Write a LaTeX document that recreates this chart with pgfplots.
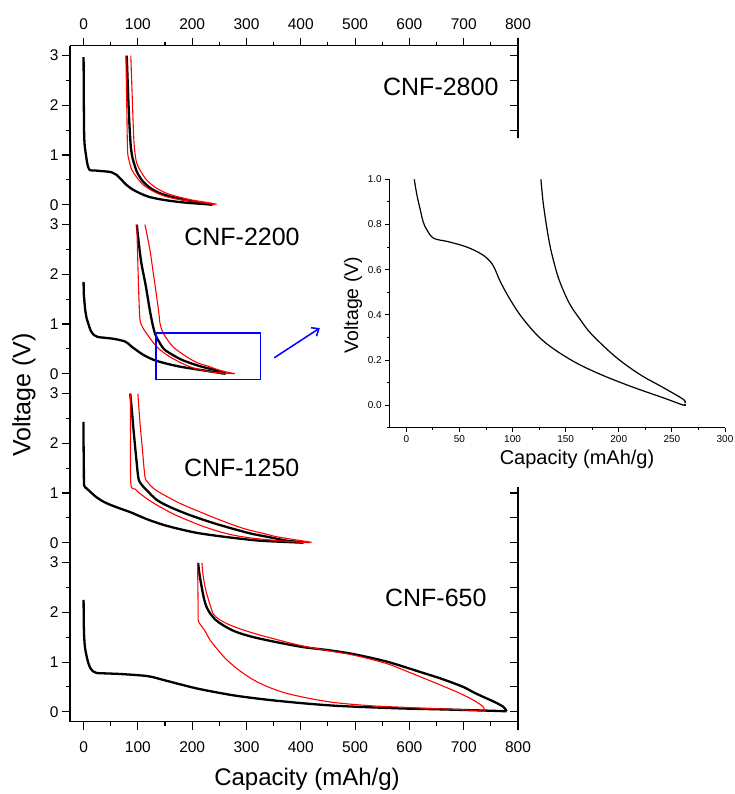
\documentclass[border=0pt]{standalone}
\usepackage{fontspec}
\setmainfont{Liberation Sans}
\usepackage{pgfplots}
\pgfplotsset{compat=1.18}
\usetikzlibrary{arrows.meta}
\definecolor{pred}{RGB}{255,0,0}
\definecolor{pblue}{RGB}{0,0,255}
\pgfplotsset{
 panel/.style={scale only axis, width=448pt, height=169pt, xmin=-25, xmax=800, ymin=-0.2, ymax=3.2,
   axis y line*=left, anchor=south west,
   xtick={0,100,...,800}, minor xtick={50,150,...,750},
   ytick={0,1,2,3}, minor ytick={0.5,1.5,2.5},
   tick align=outside, major tick length=8pt, minor tick length=4pt,
   axis line style={line width=1.1pt}, tick style={line width=1.1pt, black},
   tick label style={font=\fontsize{15.5}{18}\selectfont},
   /pgf/number format/assume math mode=true, clip=false},
 blk/.style={black, line width=2.3pt, smooth, tension=0.5, line join=round},
 rd/.style={pred, line width=1.1pt, smooth, tension=0.5, line join=round},
}
\begin{document}
\begin{tikzpicture}
\useasboundingbox (0,0) rectangle (735pt,794pt);
% ---------------- CNF-2800
\begin{axis}[panel, at={(70pt,579.3pt)}, axis x line*=top, xticklabel style={yshift=5pt}]
\addplot[blk] coordinates {(0,2.97) (0.5,2.0) (1,1.44) (2,1.2) (4,1.03) (7,0.82) (11,0.70) (20,0.69) (30,0.68) (49,0.66) (56,0.63) (61,0.60) (70,0.50) (79,0.40) (90,0.31) (104,0.23) (120,0.16) (141,0.11) (165,0.07) (190,0.04) (215,0.02) (237,0.0)};
\addplot[blk] coordinates {(239,0.01) (215,0.04) (190,0.09) (165,0.15) (141,0.23) (125,0.32) (110,0.46) (100,0.62) (95,0.76) (90,0.95) (87,1.17) (84.5,1.6) (82.5,2.1) (79.5,3.0)};
\addplot[rd] coordinates {(78,3.0) (79.5,2.0) (81,1.10) (84,0.88) (89,0.70) (98,0.55) (110,0.40) (130,0.26) (153,0.16) (185,0.09) (215,0.05) (242,0.0)};
\addplot[rd] coordinates {(245,0.01) (225,0.05) (202,0.09) (178,0.15) (153,0.23) (132,0.35) (116,0.50) (106,0.66) (98,0.83) (94,1.1) (92,1.44) (89.5,2.2) (87,3.0)};
\end{axis}
% ---------------- CNF-2200
\begin{axis}[panel, at={(70pt,410.3pt)}, axis x line=none]
\addplot[blk] coordinates {(0,1.85) (0.5,1.6) (2,1.4) (3,1.28) (6,1.1) (9,1.0) (13,0.87) (19,0.78) (26,0.74) (38,0.725) (54,0.705) (66,0.68) (76,0.65) (82,0.61) (88,0.55) (98,0.47) (110,0.38) (129,0.28) (154,0.2) (179,0.14) (211,0.084) (242,0.032) (261,0.0)};
\addplot[blk] coordinates {(261,0.0) (260,0.025) (242,0.077) (220,0.135) (198,0.209) (179,0.29) (164,0.379) (148,0.496) (139,0.644) (132,0.791) (127,1.0) (122,1.28) (114,1.8) (105.5,2.29) (98,3.0)};
\addplot[rd] coordinates {(98,3.0) (100,2.2) (102,1.5) (104,1.08) (109,0.93) (116,0.81) (135,0.54) (159,0.34) (196,0.14) (233,0.04) (276,0.0)};
\addplot[rd] coordinates {(279,0.0) (250,0.07) (233,0.14) (210,0.22) (190,0.34) (165,0.54) (147,0.81) (141,1.0) (138,1.28) (130,1.9) (122,2.5) (113,3.0)};
\draw[pblue, line width=1.4pt] (axis cs:133,-0.11) rectangle (axis cs:326,0.82);
\draw[pblue, line width=1.5pt, -{Straight Barb[length=6pt,width=10pt]}] (axis cs:351,0.32) -- (axis cs:435,0.92);
\end{axis}
% ---------------- CNF-1250
\begin{axis}[panel, at={(70pt,241.3pt)}, axis x line=none]
\addplot[blk] coordinates {(0,2.43) (0,2.0) (0.5,1.5) (1,1.16) (5,1.10) (12,1.03) (22,0.93) (36,0.83) (50,0.76) (67,0.69) (85,0.62) (98,0.56) (120,0.46) (147,0.36) (175,0.28) (208,0.20) (245,0.14) (282,0.09) (315,0.05) (343,0.03) (375,0.015) (405,0.0)};
\addplot[blk] coordinates {(405,0.01) (375,0.04) (343,0.11) (310,0.18) (282,0.26) (250,0.36) (221,0.46) (190,0.58) (159,0.72) (135,0.86) (116,1.06) (106,1.18) (101,1.30) (97,1.7) (92,2.27) (89,2.65) (86,3.0)};
\addplot[rd] coordinates {(86,3.0) (86.5,2.2) (87,1.19) (95,1.08) (104,0.99) (120,0.86) (141,0.72) (165,0.58) (190,0.46) (220,0.33) (251,0.22) (282,0.14) (313,0.09) (350,0.05) (385,0.02) (417,0.0)};
\addplot[rd] coordinates {(420,0.01) (390,0.06) (356,0.12) (330,0.19) (300,0.27) (270,0.38) (239,0.51) (208,0.65) (178,0.79) (150,0.95) (129,1.09) (118,1.22) (113,1.33) (109,1.8) (104,2.4) (100,3.0)};
\end{axis}
% ---------------- CNF-650
\begin{axis}[panel, at={(70pt,72.3pt)}, axis x line*=bottom, xticklabel style={yshift=-8pt}]
\addplot[blk] coordinates {(0,2.25) (0.3,1.9) (0.8,1.58) (2.5,1.3) (5.8,1.11) (9,0.97) (13,0.87) (18,0.81) (24,0.78) (45,0.77) (67,0.76) (95,0.74) (116,0.72) (130,0.69) (147,0.64) (175,0.56) (208,0.47) (245,0.39) (282,0.32) (340,0.24) (405,0.17) (465,0.12) (527,0.09) (590,0.065) (650,0.05) (720,0.03) (779,0.01)};
\addplot[blk] coordinates {(779,0.01) (777,0.05) (773,0.10) (760,0.18) (742,0.27) (720,0.38) (699,0.50) (660,0.66) (620,0.80) (558,1.01) (497,1.16) (450,1.24) (405,1.30) (360,1.39) (313,1.50) (280,1.61) (257,1.74) (243,1.85) (233,1.98) (226,2.12) (221,2.31) (216,2.6) (213,2.8) (211,2.99)};
\addplot[rd] coordinates {(210,3.0) (210.5,2.5) (211,2.1) (211,1.85) (214,1.77) (218,1.71) (225,1.6) (233,1.44) (247,1.25) (264,1.04) (287,0.83) (313,0.64) (342,0.49) (374,0.37) (420,0.26) (466,0.18) (530,0.12) (589,0.09) (640,0.065) (681,0.05) (715,0.03) (739,0.01)};
\addplot[rd] coordinates {(739,0.01) (738,0.05) (736,0.10) (726,0.18) (712,0.27) (685,0.41) (650,0.57) (605,0.77) (558,0.97) (497,1.14) (450,1.23) (405,1.32) (360,1.44) (313,1.58) (280,1.70) (257,1.81) (240,1.95) (233,2.15) (225,2.45) (220,2.75) (218,2.99)};
\end{axis}
% ---------------- right frame line with inward ticks
\begin{axis}[scale only axis, width=448pt, height=676pt, at={(70pt,72.3pt)}, anchor=south west,
  xmin=-25, xmax=800, ymin=-0.2, ymax=13.4, axis x line=none, axis y line*=right,
  ytick={0,0.5,1,1.5,2,2.5,3,3.4,3.9,4.4,4.9,5.4,5.9,6.4,6.8,7.3,7.8,8.3,8.8,9.3,9.8,10.2,10.7,11.2,11.7,12.2,12.7,13.2},
  yticklabels={}, tick align=inside, major tick length=8pt,
  axis line style={line width=1.1pt}, tick style={line width=1.1pt, black}]
\addplot[draw=none] coordinates {(0,0)};
\end{axis}
% white background of inset
\fill[white] (330pt,307pt) rectangle (735pt,656pt);
% ---------------- inset
\begin{axis}[scale only axis, width=335.7pt, height=248.4pt, at={(389.3pt,366.3pt)}, anchor=south west,
  xmin=-16, xmax=300, ymin=-0.1, ymax=1.0, axis x line*=bottom, axis y line*=left,
  xtick={0,50,...,300}, minor xtick={25,75,...,275},
  ytick={0,0.2,...,1.0}, minor ytick={-0.1,0.1,0.3,0.5,0.7,0.9},
  tick align=outside, major tick length=4pt, minor tick length=2pt,
  axis line style={line width=0.9pt}, tick style={line width=0.8pt, black},
  tick label style={font=\fontsize{10}{12}\selectfont},
  yticklabel style={/pgf/number format/fixed, /pgf/number format/precision=1, /pgf/number format/fixed zerofill},
  /pgf/number format/assume math mode=true]
\addplot[black, line width=1.2pt, smooth, tension=0.6] coordinates {(7.5,1.0) (10,0.93) (13.2,0.864) (16,0.81) (19.4,0.776) (25.7,0.739) (38.2,0.725) (53.9,0.705) (66.5,0.68) (75.9,0.651) (82.2,0.614) (88.4,0.548) (97.8,0.467) (110.4,0.379) (129.2,0.283) (154.3,0.202) (179.4,0.143) (210.7,0.084) (242.1,0.032) (260.9,0.0) (262,0.005)};
\addplot[black, line width=1.2pt, smooth, tension=0.6] coordinates {(126.7,1.0) (128.5,0.91) (130.5,0.84) (132.8,0.77) (135.5,0.70) (139,0.632) (143,0.566) (148.5,0.50) (155,0.438) (163.7,0.379) (171,0.332) (179.4,0.29) (198.2,0.209) (220.1,0.135) (242.1,0.077) (260.9,0.025) (262,0.01)};
\end{axis}
% ---------------- texts
\node[font=\fontsize{25}{30}\selectfont, inner sep=0] at (440.8pt,707pt) {CNF-2800};
\node[font=\fontsize{25}{30}\selectfont, inner sep=0] at (242pt,557pt) {CNF-2200};
\node[font=\fontsize{25}{30}\selectfont, inner sep=0] at (241.7pt,326.5pt) {CNF-1250};
\node[font=\fontsize{25}{30}\selectfont, inner sep=0] at (435.8pt,196pt) {CNF-650};
\node[font=\fontsize{24}{29}\selectfont, inner sep=0, anchor=base] at (307pt,9pt) {Capacity (mAh/g)};
\node[font=\fontsize{25}{30}\selectfont, inner sep=0, rotate=90] at (24pt,399pt) {Voltage (V)};
\node[font=\fontsize{19.5}{23}\selectfont, inner sep=0, rotate=90] at (353pt,489pt) {Voltage (V)};
\node[font=\fontsize{20}{24}\selectfont, inner sep=0, anchor=base] at (577pt,329pt) {Capacity (mAh/g)};
\end{tikzpicture}
\end{document}
